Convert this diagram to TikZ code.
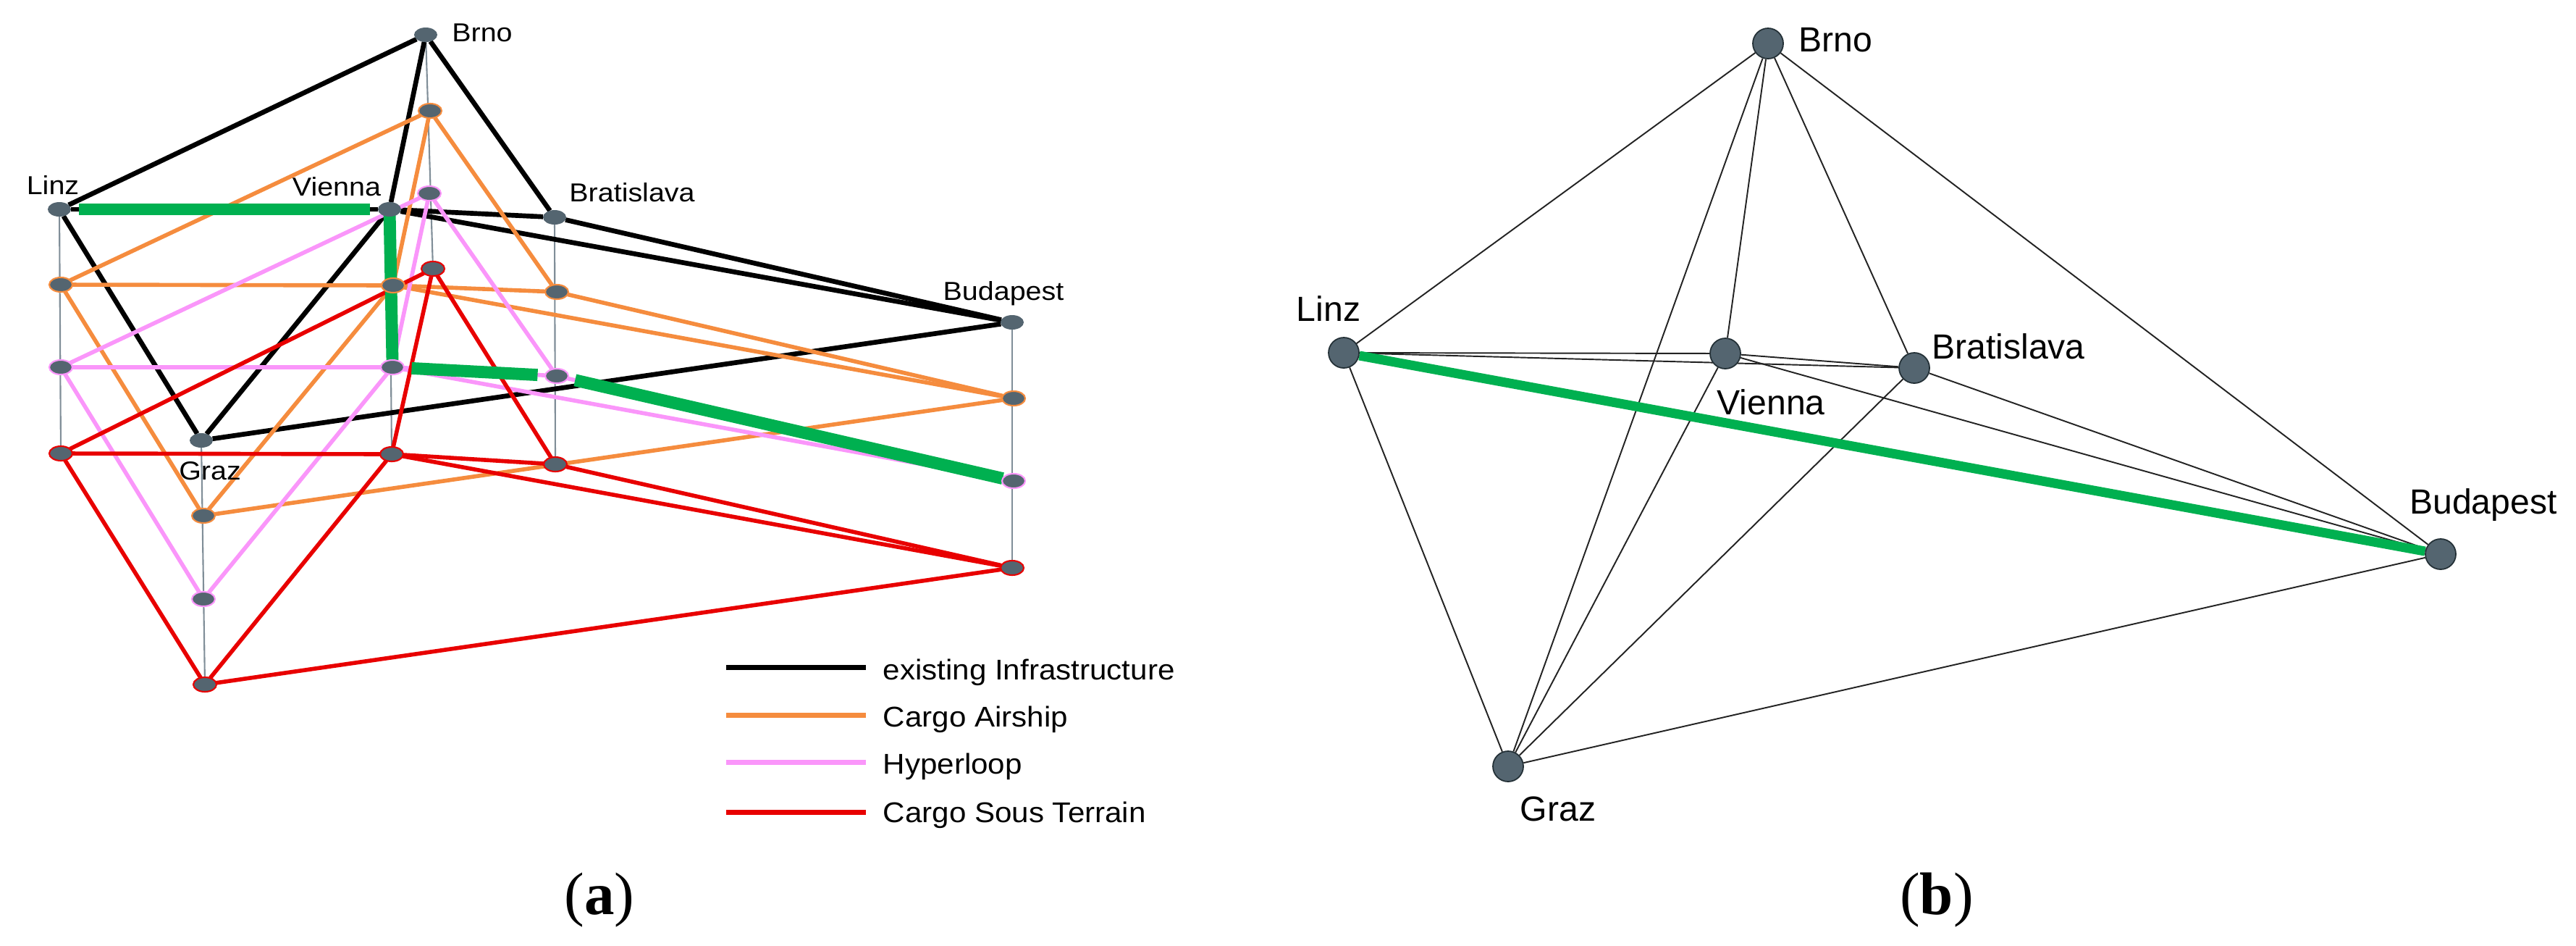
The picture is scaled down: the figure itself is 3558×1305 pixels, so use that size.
\documentclass[tikz,border=0pt]{standalone}
\usepackage{fontspec}
\setmainfont{Liberation Sans}
\newfontfamily\lfont[FakeStretch=1.1]{Liberation Sans}
\newfontfamily\legfont[FakeStretch=1.07]{Liberation Sans}
\newfontfamily\capfont{Liberation Serif}
\usetikzlibrary{shapes.geometric}
\pgfdeclarelayer{bg}
\pgfsetlayers{bg,main}
\definecolor{nodegray}{RGB}{84,101,112}
\definecolor{corange}{RGB}{245,140,62}
\definecolor{cpink}{RGB}{250,150,250}
\definecolor{cred}{RGB}{232,0,0}
\definecolor{cgreen}{RGB}{0,176,80}
\definecolor{vgray}{RGB}{128,142,152}
\definecolor{redge}{RGB}{35,35,35}
\definecolor{routline}{RGB}{35,48,54}
\tikzset{
  lnode/.style={ellipse, fill=nodegray, minimum width=0.32cm, minimum height=0.20cm, inner sep=0pt, outer sep=0pt},
  lblack/.style={lnode},
  lorange/.style={lnode, draw=corange, line width=0.6pt},
  lpink/.style={lnode, draw=cpink, line width=0.6pt},
  lred/.style={lnode, draw=cred, line width=0.6pt},
  rnode/.style={circle, fill=nodegray, draw=routline, line width=0.5pt, minimum size=0.42cm, inner sep=0pt},
  eblack/.style={draw=black, line width=1.9pt},
  eorange/.style={draw=corange, line width=1.6pt},
  epink/.style={draw=cpink, line width=1.6pt},
  ered/.style={draw=cred, line width=1.6pt},
  vline/.style={draw=vgray, line width=0.6pt},
  lgreen/.style={draw=cgreen, line width=4.8pt},
  rthin/.style={draw=redge, line width=0.55pt},
  rgreen/.style={draw=cgreen, line width=3.7pt},
  llabel/.style={font=\lfont\fontsize{10.2pt}{12pt}\selectfont, inner sep=0pt, anchor=base},
  rlabel/.style={font=\fontsize{13.7pt}{16pt}\selectfont, inner sep=0pt, anchor=base},
  legtext/.style={font=\legfont\fontsize{11.2pt}{13pt}\selectfont, inner sep=0pt, anchor=base west},
  legline/.style={line width=2pt},
  captext/.style={font=\capfont\fontsize{23.6pt}{28pt}\selectfont, inner sep=0pt, anchor=base},
}
\begin{document}
\begin{tikzpicture}[x=0.01cm,y=-0.01cm]
\useasboundingbox (0,0) rectangle (3558,1305);

% ---------- panel (a): nodes ----------
\foreach \n/\x/\y in {Brno/588/48, Linz/82/289, Vienna/538/289, Bratislava/766/300, Budapest/1398/445, Graz/278/608}
  \node[lblack] (b\n) at (\x,\y) {};
\foreach \n/\x/\y in {Brno/594/153, Linz/84/393, Vienna/543/394, Bratislava/769/403, Budapest/1400/550, Graz/281/712}
  \node[lorange] (o\n) at (\x,\y) {};
\foreach \n/\x/\y in {Brno/593/267, Linz/84/507, Vienna/542/507, Bratislava/769/519, Budapest/1400/664, Graz/281/827}
  \node[lpink] (p\n) at (\x,\y) {};
\foreach \n/\x/\y in {Brno/598/371, Linz/84/626, Vienna/541/627, Bratislava/767/641, Budapest/1398/784, Graz/283/945}
  \node[lred] (r\n) at (\x,\y) {};

% ---------- panel (b): nodes ----------
\foreach \n/\x/\y in {Brno/2442/60, Linz/1856/487, Vienna/2383/488, Bratislava/2644/508, Budapest/3371/765, Graz/2083/1058}
  \node[rnode] (q\n) at (\x,\y) {};

\begin{pgfonlayer}{bg}
  % vertical links between layers
  \foreach \c in {Brno,Linz,Vienna,Bratislava,Budapest,Graz}
    \draw[vline] (b\c) -- (r\c);
  % existing infrastructure
  \foreach \a/\b in {Brno/Linz, Brno/Vienna, Brno/Bratislava, Linz/Vienna, Linz/Graz, Vienna/Graz, Vienna/Bratislava, Vienna/Budapest, Bratislava/Budapest, Graz/Budapest}
    \draw[eblack] (b\a) -- (b\b);
  % cargo airship
  \foreach \a/\b in {Brno/Linz, Brno/Vienna, Brno/Bratislava, Linz/Vienna, Linz/Graz, Vienna/Graz, Vienna/Bratislava, Vienna/Budapest, Bratislava/Budapest, Graz/Budapest}
    \draw[eorange] (o\a) -- (o\b);
  % hyperloop
  \foreach \a/\b in {Brno/Linz, Brno/Vienna, Brno/Bratislava, Linz/Vienna, Linz/Graz, Vienna/Graz, Vienna/Bratislava, Vienna/Budapest, Bratislava/Budapest}
    \draw[epink] (p\a) -- (p\b);
  % cargo sous terrain
  \foreach \a/\b in {Brno/Linz, Brno/Vienna, Brno/Bratislava, Linz/Vienna, Linz/Graz, Vienna/Graz, Vienna/Bratislava, Vienna/Budapest, Bratislava/Budapest, Graz/Budapest}
    \draw[ered] (r\a) -- (r\b);
  % highlighted route (a)
  \draw[lgreen, shorten <=3pt, shorten >=3pt] (bLinz) -- (bVienna);
  \draw[lgreen] (bVienna.center) -- (pVienna.north);
  \draw[lgreen, shorten <=3pt, shorten >=3pt] (pVienna) -- (pBratislava);
  \draw[lgreen, shorten <=3pt] (pBratislava) -- (pBudapest);

  % panel (b) edges
  \foreach \a/\b in {Brno/Linz, Brno/Vienna, Brno/Bratislava, Brno/Budapest, Brno/Graz, Linz/Vienna, Linz/Bratislava, Linz/Graz, Linz/Budapest, Vienna/Bratislava, Vienna/Budapest, Vienna/Graz, Bratislava/Budapest, Bratislava/Graz, Graz/Budapest}
    \draw[rthin] (q\a) -- (q\b);
  \draw[rgreen] (qLinz) -- (qBudapest);
\end{pgfonlayer}

% ---------- labels (a) ----------
\node[llabel] (laBrno) at (666,57) {Brno};
\node[llabel] (laLinz) at (73,268) {Linz};
\node[llabel] (laVienna) at (465,270) {Vienna};
\node[llabel] (laBratislava) at (873,278) {Bratislava};
\node[llabel] (laBudapest) at (1386,414) {Budapest};
\node[llabel] (laGraz) at (290,662) {Graz};

% ---------- legend ----------
\coordinate (lg1a) at (1003,921); \coordinate (lg1b) at (1196,921);
\coordinate (lg2a) at (1003,987); \coordinate (lg2b) at (1196,987);
\coordinate (lg3a) at (1003,1052); \coordinate (lg3b) at (1196,1052);
\coordinate (lg4a) at (1003,1121); \coordinate (lg4b) at (1196,1121);
\draw[legline, draw=black] (lg1a) -- (lg1b);
\draw[legline, draw=corange] (lg2a) -- (lg2b);
\draw[legline, draw=cpink] (lg3a) -- (lg3b);
\draw[legline, draw=cred] (lg4a) -- (lg4b);
\node[legtext] (lt1) at (1219,938) {existing Infrastructure};
\node[legtext] (lt2) at (1219,1003) {Cargo Airship};
\node[legtext] (lt3) at (1219,1068) {Hyperloop};
\node[legtext] (lt4) at (1219,1135) {Cargo Sous Terrain};

% ---------- labels (b) ----------
\node[rlabel] (lbBrno) at (2535,71) {Brno};
\node[rlabel] (lbLinz) at (1835,443) {Linz};
\node[rlabel] (lbVienna) at (2446,572) {Vienna};
\node[rlabel] (lbBratislava) at (2774,495) {Bratislava};
\node[rlabel] (lbBudapest) at (3430,709) {Budapest};
\node[rlabel] (lbGraz) at (2152,1133) {Graz};

% ---------- captions ----------
\node[captext] (capa) at (828,1262) {(\textbf{a})};
\node[captext] (capb) at (2675,1262) {(\textbf{b})};
\end{tikzpicture}
\end{document}
